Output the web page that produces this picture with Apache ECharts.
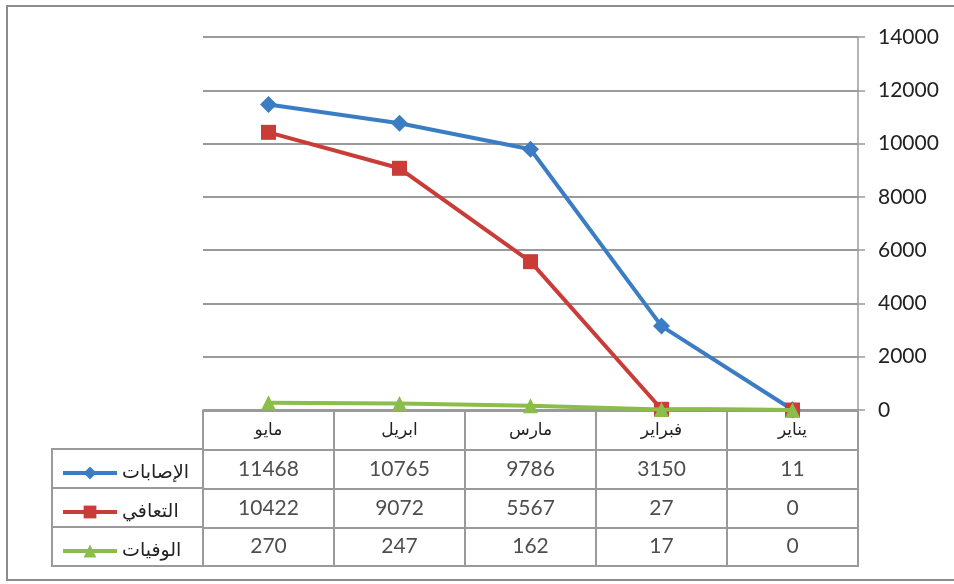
<!DOCTYPE html>
<html>
<head>
  <meta charset="UTF-8">
  <title>الإصابات والتعافي والوفيات</title>
  <script src="https://cdn.jsdelivr.net/npm/echarts@6/dist/echarts.min.js"></script>
  <style>
    body { margin: 0; background: #fff; overflow: hidden; }
    #chart { width: 954px; height: 584px; }
  </style>
</head>
<body>
<div id="chart"></div>
<script>
  // months, left to right as in the picture
  var months = ['مايو', 'ابريل', 'مارس', 'فبراير', 'يناير'];
  var seriesNames = ['الإصابات', 'التعافي', 'الوفيات'];
  var cases = [11468, 10765, 9786, 3150, 11];
  var recovered = [10422, 9072, 5567, 27, 0];
  var deaths = [270, 247, 162, 17, 0];
  var yTicks = { min: 0, max: 14000, interval: 2000 };

  var colors = ['#3b7dc4', '#c93c37', '#8abd4a'];
  var symbols = ['diamond', 'rect', 'triangle'];
  var allValues = [cases, recovered, deaths];

  var arabicFont = '"DejaVu Sans", sans-serif';
  var numFont = 'Lato, "Open Sans", sans-serif';
  var gridColor = '#9a9a9a';

  // table cells: [column, row, value]
  var tableCells = [];
  allValues.forEach(function (vals, r) {
    vals.forEach(function (v, c) {
      tableCells.push([c, r + 1, v]);
    });
  });

  var lineSeries = allValues.map(function (vals, i) {
    return {
      name: seriesNames[i],
      type: 'line',
      xAxisIndex: 0,
      yAxisIndex: 0,
      data: vals,
      symbol: symbols[i],
      symbolSize: i === 0 ? 17 : 15,
      lineStyle: { color: colors[i], width: 4 },
      itemStyle: { color: colors[i] },
      z: 3 + i
    };
  });

  var chart = echarts.init(document.getElementById('chart'));
  chart.setOption({
    animation: false,
    graphic: [{
      type: 'rect',
      shape: { x: 7, y: 6, width: 960, height: 574 },
      style: { fill: 'none', stroke: '#8c8c8c', lineWidth: 2 },
      silent: true
    }],
    legend: {
      orient: 'vertical',
      left: 56,
      top: 456,
      itemWidth: 54,
      itemHeight: 16,
      itemGap: 15,
      data: seriesNames,
      lineStyle: { width: 4 },
      textStyle: { fontFamily: arabicFont, fontSize: 19, color: '#222', lineHeight: 24 },
      selectedMode: false
    },
    grid: [
      { left: 203, top: 37, width: 655, height: 373 },
      { left: 203, top: 411, width: 655, height: 155, show: true, borderColor: gridColor, borderWidth: 2 },
      { left: 52, top: 449, width: 151, height: 117, show: true, borderColor: gridColor, borderWidth: 2 }
    ],
    xAxis: [
      {
        gridIndex: 0,
        type: 'category',
        data: months,
        boundaryGap: true,
        axisLine: { lineStyle: { color: gridColor, width: 1.5 } },
        axisTick: { show: false },
        axisLabel: { fontFamily: arabicFont, fontSize: 17, color: '#222', margin: 12 },
        splitLine: { show: false }
      },
      {
        gridIndex: 1,
        type: 'category',
        data: months,
        boundaryGap: true,
        axisLine: { show: false },
        axisTick: { show: false },
        axisLabel: { show: false },
        splitLine: { show: true, lineStyle: { color: gridColor, width: 2 } }
      },
      {
        gridIndex: 2,
        type: 'category',
        data: [''],
        axisLine: { show: false },
        axisTick: { show: false },
        axisLabel: { show: false }
      }
    ],
    yAxis: [
      {
        gridIndex: 0,
        type: 'value',
        position: 'right',
        min: yTicks.min,
        max: yTicks.max,
        interval: yTicks.interval,
        axisLine: { show: true, lineStyle: { color: gridColor, width: 1.5 } },
        axisTick: { show: true, length: 7, lineStyle: { color: gridColor, width: 1.5 } },
        axisLabel: {
          fontFamily: numFont, fontSize: 21, color: '#222', margin: 20,
          formatter: function (v) { return String(v); }
        },
        splitLine: { show: true, lineStyle: { color: gridColor, width: 2 } }
      },
      {
        gridIndex: 1,
        type: 'category',
        data: [''].concat(seriesNames),
        inverse: true,
        axisLine: { show: false },
        axisTick: { show: false },
        axisLabel: { show: false },
        splitLine: { show: true, lineStyle: { color: gridColor, width: 2 } }
      },
      {
        gridIndex: 2,
        type: 'category',
        data: seriesNames,
        inverse: true,
        axisLine: { show: false },
        axisTick: { show: false },
        axisLabel: { show: false },
        splitLine: { show: true, lineStyle: { color: gridColor, width: 2 } }
      }
    ],
    series: lineSeries.concat([{
      type: 'scatter',
      xAxisIndex: 1,
      yAxisIndex: 1,
      symbolSize: 0,
      data: tableCells,
      silent: true,
      label: {
        show: true,
        position: 'inside',
        fontFamily: numFont,
        fontSize: 21,
        color: '#222',
        formatter: function (p) { return String(p.value[2]); }
      }
    }])
  });
</script>
</body>
</html>
